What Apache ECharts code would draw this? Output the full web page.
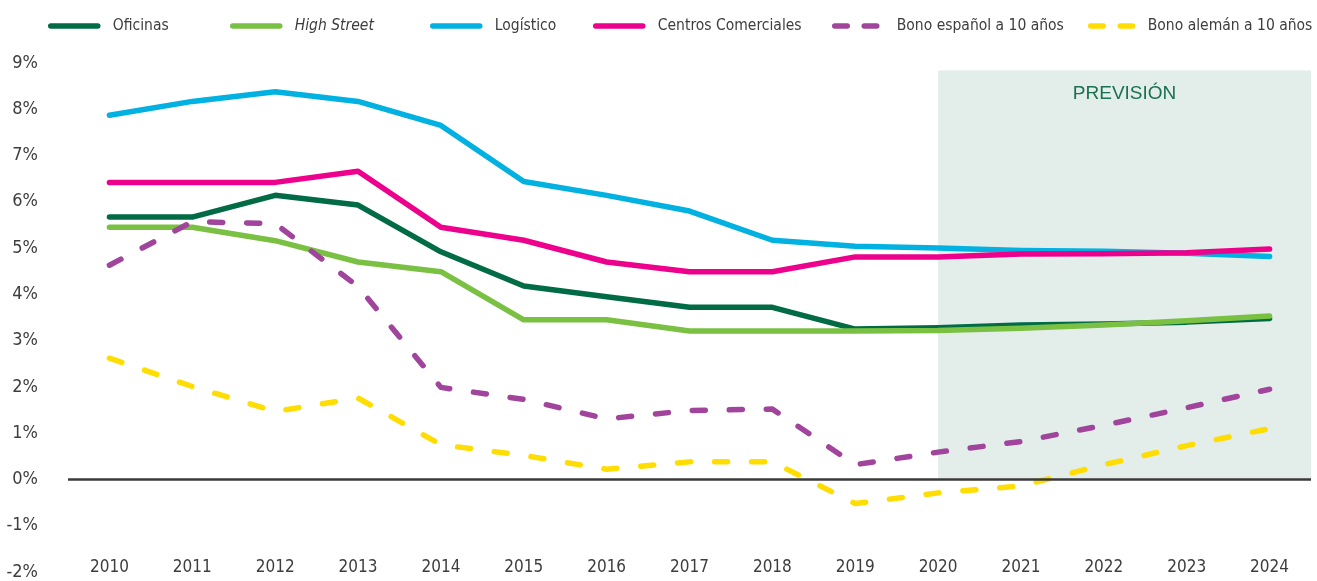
<!DOCTYPE html>
<html>
<head>
<meta charset="utf-8">
<script src="https://cdn.jsdelivr.net/npm/echarts@6/dist/echarts.min.js"></script>
<style>
  html, body { margin: 0; padding: 0; background: #fff; }
  #chart { width: 1317px; height: 581px; }
</style>
</head>
<body>
<div id="chart"></div>
<script>
// years on the x axis
const years = ['2010', '2011', '2012', '2013', '2014', '2015', '2016', '2017',
               '2018', '2019', '2020', '2021', '2022', '2023', '2024'];

// yields in %
const oficinas   = [5.67, 5.67, 6.14, 5.93, 4.92, 4.18, 3.95, 3.72, 3.72, 3.25, 3.28, 3.34, 3.36, 3.40, 3.48];
const highStreet = [5.45, 5.45, 5.16, 4.70, 4.49, 3.45, 3.45, 3.21, 3.21, 3.21, 3.22, 3.27, 3.34, 3.43, 3.53];
const logistico  = [7.87, 8.17, 8.38, 8.17, 7.65, 6.44, 6.14, 5.80, 5.17, 5.04, 5.00, 4.95, 4.93, 4.89, 4.82];
const centros    = [6.42, 6.42, 6.42, 6.66, 5.45, 5.17, 4.70, 4.49, 4.49, 4.81, 4.81, 4.87, 4.88, 4.90, 4.98];
const bonoEs     = [4.63, 5.57, 5.53, 4.17, 1.99, 1.73, 1.31, 1.49, 1.52, 0.32, 0.59, 0.82, 1.17, 1.55, 1.95];
const bonoDe     = [2.62, 2.01, 1.47, 1.76, 0.75, 0.52, 0.22, 0.38, 0.38, -0.52, -0.29, -0.14, 0.32, 0.73, 1.10];

// forecast band: from 2020 (index 10) to the right edge, 0% to top of band
const forecastFrom = 10;
const forecastTop = 8.84;

const FONT = '"DejaVu Sans Condensed", "Liberation Sans", sans-serif';
const TEXT = '#3d3d3d';

const lineSeries = [
  { name: 'Oficinas', data: oficinas, color: '#006b45', dashed: false },
  { name: 'High Street', data: highStreet, color: '#7ac143', dashed: false },
  { name: 'Logístico', data: logistico, color: '#00b1e1', dashed: false },
  { name: 'Centros Comerciales', data: centros, color: '#ec008c', dashed: false },
  { name: 'Bono español a 10 años', data: bonoEs, color: '#a1449c', dashed: true },
  { name: 'Bono alemán a 10 años', data: bonoDe, color: '#ffdd00', dashed: true }
];

const legendLeft = [48, 230, 430, 593, 832, 1088];
const legendGap  = [10, 10, 10, 10, 10, 5];

const chart = echarts.init(document.getElementById('chart'), null, { renderer: 'canvas' });

const series = [
  {
    // carrier for the forecast band and the zero line
    type: 'line',
    xAxisIndex: 1,
    data: [],
    silent: true,
    z: 1,
    markArea: {
      silent: true,
      itemStyle: { color: '#e3eeea' },
      label: {
        show: true,
        position: 'insideTop',
        distance: 14,
        color: '#1a7050',
        fontFamily: '"Liberation Sans", sans-serif',
        fontSize: 19
      },
      data: [[
        { name: 'PREVISIÓN', coord: [forecastFrom, 0] },
        { coord: [years.length - 0.5, forecastTop] }
      ]]
    },
    markLine: {
      silent: true,
      symbol: 'none',
      label: { show: false },
      lineStyle: { color: '#3a3a3a', width: 2.5, type: 'solid' },
      data: [{ yAxis: 0 }]
    }
  }
];

lineSeries.forEach(s => {
  series.push({
    name: s.name,
    type: 'line',
    data: s.data,
    symbol: 'none',
    z: 3,
    color: s.color,
    lineStyle: {
      color: s.color,
      width: 5.5,
      cap: 'round',
      join: 'round',
      type: s.dashed ? [13, 24] : 'solid'
    }
  });
});

const legends = lineSeries.map((s, i) => ({
  data: [s.name],
  left: legendLeft[i],
  top: 18,
  itemWidth: 47,
  itemHeight: 14,
  padding: 0,
  selectedMode: false,
  itemStyle: { opacity: 0 },
  lineStyle: s.dashed ? { type: [12.5, 17], width: 5.5, cap: 'round' } : { width: 5.5, cap: 'round' },
  textStyle: {
    fontFamily: FONT,
    fontSize: 15.5,
    color: TEXT,
    padding: [0, 0, 0, legendGap[i]],
    rich: { i: { fontStyle: 'italic', fontFamily: FONT, fontSize: 15.5, color: TEXT } }
  },
  formatter: name => name === 'High Street' ? '{i|' + name + '}' : name
}));

chart.setOption({
  animation: false,
  backgroundColor: '#ffffff',
  legend: legends,
  grid: { left: 68, right: 6, top: 63, bottom: 8, containLabel: false },
  xAxis: [
    {
      type: 'category',
      data: years,
      boundaryGap: true,
      axisLine: { show: false },
      axisTick: { show: false },
      axisLabel: { fontFamily: FONT, fontSize: 17, color: TEXT, margin: -13 }
    },
    { type: 'value', min: -0.5, max: years.length - 0.5, show: false }
  ],
  yAxis: {
    type: 'value',
    min: -2,
    max: 9,
    interval: 1,
    axisLine: { show: false },
    axisTick: { show: false },
    splitLine: { show: false },
    axisLabel: {
      fontFamily: FONT,
      fontSize: 18,
      color: TEXT,
      margin: 30,
      formatter: v => v + '%'
    }
  },
  series: series
});
</script>
</body>
</html>
